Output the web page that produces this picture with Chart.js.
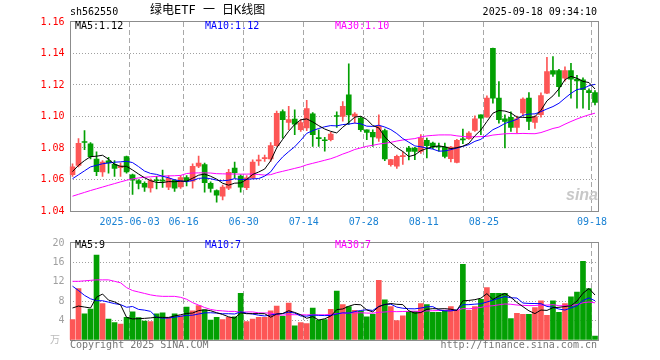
<!DOCTYPE html>
<html>
<head>
<meta charset="utf-8">
<script src="https://cdn.jsdelivr.net/npm/chart.js@4.4.1/dist/chart.umd.min.js"></script>
<style>
  body { margin: 0; background: #fff; }
  #wrap { position: relative; width: 660px; height: 360px; overflow: hidden; font-family: "DejaVu Sans Mono", monospace; font-size: 10px; }
  #wrap canvas { position: absolute; left: 0; }
  .t { position: absolute; white-space: pre; line-height: 12px; }
</style>
</head>
<body>
<div id="wrap">
  <canvas id="k_chart" width="660" height="232" style="top:0"></canvas>
  <canvas id="vol_chart" width="660" height="128" style="top:232px"></canvas>

  <div class="t" style="left:70px;top:6px">sh562550</div>
  <div class="t" id="title" style="left:150px;top:4px;font-size:12px;font-family:'DejaVu Sans Mono','Noto Sans CJK SC',monospace">绿电ETF 一 日K线图</div>
  <div class="t" style="right:63px;top:6px">2025-09-18 09:34:10</div>

  <div class="t" id="k_ma5" style="left:75px;top:20px;color:#000"></div>
  <div class="t" id="k_ma10" style="left:205px;top:20px;color:#0000ff"></div>
  <div class="t" id="k_ma30" style="left:335px;top:20px;color:#ff00ff"></div>

  <div class="t" id="v_ma5" style="left:75px;top:239px;color:#000"></div>
  <div class="t" id="v_ma10" style="left:205px;top:239px;color:#0000ff"></div>
  <div class="t" id="v_ma30" style="left:335px;top:239px;color:#ff00ff"></div>

  <div class="t" style="left:566px;top:186px;color:#c8c8c8;font:italic bold 16px 'Liberation Sans',sans-serif">sina</div>
  <div class="t" style="left:50px;top:333px;color:#bbb;font-size:10px;font-family:'Noto Sans CJK SC',sans-serif">万</div>
  <div class="t" style="left:70px;top:339px;color:#777">Copyright 2025 SINA.COM</div>
  <div class="t" style="right:63px;top:339px;color:#777">http://finance.sina.com.cn</div>
</div>

<script>
// trading days shown (2025)
const dates = [
  '05-19','05-20','05-21','05-22','05-23','05-26','05-27','05-28','05-29','05-30',
  '06-03','06-04','06-05','06-06','06-09','06-10','06-11','06-12','06-13','06-16',
  '06-17','06-18','06-19','06-20','06-23','06-24','06-25','06-26','06-27','06-30',
  '07-01','07-02','07-03','07-04','07-07','07-08','07-09','07-10','07-11','07-14',
  '07-15','07-16','07-17','07-18','07-21','07-22','07-23','07-24','07-25','07-28',
  '07-29','07-30','07-31','08-01','08-04','08-05','08-06','08-07','08-08','08-11',
  '08-12','08-13','08-14','08-15','08-18','08-19','08-20','08-21','08-22','08-25',
  '08-26','08-27','08-28','08-29','09-01','09-02','09-03','09-04','09-05','09-08',
  '09-09','09-10','09-11','09-12','09-15','09-16','09-17','09-18'
];
const tick_dates = ['2025-06-03', '06-16', '06-30', '07-14', '07-28', '08-11', '08-25', '09-18'];

const open_prices = [
  1.063, 1.069, 1.084, 1.0826, 1.073, 1.0648, 1.0718, 1.0697, 1.0675, 1.0745,
  1.063, 1.0593, 1.0575, 1.0547, 1.0597, 1.0595, 1.0552, 1.0595, 1.0553, 1.0612,
  1.059, 1.0685, 1.0694, 1.0575, 1.053, 1.0494, 1.0545, 1.0673, 1.0622, 1.0548,
  1.061, 1.0718, 1.0733, 1.073, 1.0815, 1.1032, 1.0962, 1.0984, 1.0916, 1.0927,
  1.1017, 1.0865, 1.085, 1.0853, 1.1005, 1.100, 1.1138, 1.100, 1.099, 1.0916,
  1.0899, 1.0863, 1.091, 1.0694, 1.0684, 1.0745, 1.080, 1.080, 1.0779, 1.0848,
  1.0832, 1.0808, 1.0806, 1.0732, 1.0709, 1.0855, 1.0859, 1.0912, 1.1011, 1.0996,
  1.1433, 1.1117, 1.0986, 1.0995, 1.093, 1.1022, 1.1117, 1.0962, 1.1011, 1.1148,
  1.1292, 1.1292, 1.1243, 1.1292, 1.1237, 1.1233, 1.1165, 1.1152
];
const close_prices = [
  1.068, 1.083, 1.0835, 1.0745, 1.065, 1.071, 1.0705, 1.067, 1.0685, 1.0648,
  1.0595, 1.0575, 1.0552, 1.0593, 1.0592, 1.059, 1.0608, 1.0545, 1.0612, 1.0592,
  1.0683, 1.0705, 1.058, 1.0543, 1.050, 1.0552, 1.0645, 1.0643, 1.0552, 1.061,
  1.071, 1.0723, 1.0737, 1.0815, 1.102, 1.098, 1.098, 1.0952, 1.0962, 1.105,
  1.0884, 1.086, 1.0846, 1.0889, 1.100, 1.1065, 1.101, 1.1016, 1.0916, 1.0899,
  1.087, 1.0937, 1.073, 1.0726, 1.0747, 1.0748, 1.0779, 1.0779, 1.0863, 1.0815,
  1.0806, 1.0805, 1.0747, 1.0806, 1.0848, 1.0852, 1.0895, 1.0986, 1.099, 1.1117,
  1.1117, 1.098, 1.0969, 1.093, 1.0985, 1.111, 1.0969, 1.100, 1.1133, 1.1285,
  1.1269, 1.119, 1.1292, 1.1237, 1.1226, 1.117, 1.1152, 1.1089
];
const high_prices = [
  1.070, 1.086, 1.091, 1.0835, 1.0775, 1.072, 1.074, 1.072, 1.0705, 1.0748,
  1.0635, 1.060, 1.0585, 1.0605, 1.062, 1.066, 1.0625, 1.060, 1.0625, 1.0625,
  1.070, 1.0748, 1.0705, 1.0585, 1.0535, 1.0565, 1.0665, 1.071, 1.063, 1.0625,
  1.0725, 1.0755, 1.0755, 1.0835, 1.1035, 1.1043, 1.1064, 1.1043, 1.098, 1.1102,
  1.1025, 1.0916, 1.0867, 1.090, 1.103, 1.1095, 1.1335, 1.1025, 1.100, 1.0916,
  1.0916, 1.1011, 1.092, 1.0728, 1.0755, 1.0775, 1.081, 1.0805, 1.0885, 1.0863,
  1.0838, 1.0832, 1.0832, 1.081, 1.0855, 1.092, 1.0905, 1.1005, 1.1011, 1.1131,
  1.1435, 1.1222, 1.1011, 1.103, 1.1003, 1.1118, 1.1152, 1.1005, 1.115, 1.1376,
  1.138, 1.130, 1.1315, 1.1338, 1.1262, 1.1245, 1.1175, 1.1165
];
const low_prices = [
  1.062, 1.068, 1.079, 1.073, 1.0625, 1.062, 1.064, 1.062, 1.062, 1.064,
  1.0505, 1.054, 1.0525, 1.052, 1.054, 1.055, 1.0535, 1.0525, 1.0543, 1.056,
  1.0545, 1.0675, 1.052, 1.052, 1.0456, 1.047, 1.0535, 1.061, 1.052, 1.0535,
  1.0605, 1.069, 1.0715, 1.0715, 1.081, 1.0863, 1.0916, 1.0884, 1.0905, 1.091,
  1.081, 1.081, 1.078, 1.0845, 1.093, 1.097, 1.095, 1.096, 1.0905, 1.0853,
  1.081, 1.0842, 1.072, 1.0685, 1.067, 1.0695, 1.0725, 1.0726, 1.0765, 1.0737,
  1.0795, 1.078, 1.0737, 1.0712, 1.0705, 1.0827, 1.0855, 1.0905, 1.0884, 1.0995,
  1.1085, 1.0958, 1.080, 1.0905, 1.0895, 1.1005, 1.0916, 1.0925, 1.0995, 1.1145,
  1.1255, 1.1127, 1.1225, 1.1117, 1.1053, 1.1053, 1.1043, 1.1074
];
// volume, 万
const volumes = [
  4.2, 10.6, 5.4, 6.4, 17.5, 7.5, 4.3, 3.6, 3.3, 4.7,
  5.8, 4.6, 3.9, 3.8, 5.4, 5.6, 4.6, 5.4, 5.0, 6.8,
  6.0, 7.1, 6.2, 4.1, 4.7, 4.2, 4.7, 4.8, 9.6, 3.8,
  4.3, 4.7, 4.7, 6.0, 7.0, 4.9, 7.6, 2.9, 3.6, 3.4,
  6.6, 4.1, 4.2, 6.3, 10.1, 7.3, 6.9, 6.1, 5.9, 4.8,
  5.3, 12.3, 8.3, 6.9, 4.0, 5.0, 5.9, 5.9, 7.5, 7.3,
  5.7, 5.7, 6.1, 6.9, 6.1, 15.6, 6.1, 6.9, 8.4, 10.8,
  9.6, 9.6, 9.6, 4.4, 5.5, 5.3, 5.3, 6.7, 8.1, 5.1,
  8.1, 5.7, 7.5, 8.9, 9.9, 16.2, 10.6, 0.8
];

const price_ma5_head = [1.065, 1.069, 1.072, 1.0745];
const price_ma10_head = [1.0605, 1.063, 1.0655, 1.068, 1.069, 1.070, 1.0705, 1.071, 1.0712];
const price_ma30_head = [
  1.0494, 1.0506, 1.0518, 1.053, 1.0541, 1.0552, 1.0563, 1.0574, 1.0585, 1.0595,
  1.0604, 1.061, 1.0614, 1.0617, 1.062, 1.0622, 1.0623, 1.0624, 1.0626, 1.0638,
  1.0641, 1.0642, 1.0642, 1.0641, 1.0637, 1.0636, 1.0635, 1.0635, 1.0634
];
const vol_ma5_head = [6.6, 7.0, 6.8, 6.6];
const vol_ma10_head = [11.1, 10.2, 9.2, 8.5, 8.1, 8.1, 7.8, 7.5, 7.3];
const vol_ma30_head = [
  12.1, 12.1, 12.2, 12.3, 12.4, 12.4, 12.4, 12.1, 11.8, 10.8,
  10.2, 9.9, 9.6, 9.3, 9.1, 9.0, 9.0, 9.0, 8.8, 8.4,
  7.7, 7.2, 6.7, 6.3, 6.1, 6.0, 5.9, 5.9, 5.7
];

const price_ticks = [1.04, 1.06, 1.08, 1.10, 1.12, 1.14, 1.16];
const vol_ticks = [0, 4, 8, 12, 16, 20];
const vol_ma_labels = ['MA5:9', 'MA10:7', 'MA30:7'];

const RED = '#fd5656';
const GREEN = '#03a003';
const MONO = { family: 'DejaVu Sans Mono', size: 10 };

function moving_average(values, n, head) {
  return values.map((v, i) => {
    if (i < n - 1) return head[i];
    let sum = 0;
    for (let j = i - n + 1; j <= i; j++) sum += values[j];
    return sum / n;
  });
}

const candle_colors = close_prices.map((c, i) => c >= open_prices[i] ? RED : GREEN);
const price_ma5 = moving_average(close_prices, 5, price_ma5_head);
const price_ma10 = moving_average(close_prices, 10, price_ma10_head);
const price_ma30 = moving_average(close_prices, 30, price_ma30_head);
const vol_ma5 = moving_average(volumes, 5, vol_ma5_head);
const vol_ma10 = moving_average(volumes, 10, vol_ma10_head);
const vol_ma30 = moving_average(volumes, 30, vol_ma30_head);

document.getElementById('k_ma5').textContent = 'MA5:' + price_ma5[price_ma5.length - 1].toFixed(2);
document.getElementById('k_ma10').textContent = 'MA10:' + price_ma10[price_ma10.length - 1].toFixed(2);
document.getElementById('k_ma30').textContent = 'MA30:' + price_ma30[price_ma30.length - 1].toFixed(2);
document.getElementById('v_ma5').textContent = vol_ma_labels[0];
document.getElementById('v_ma10').textContent = vol_ma_labels[1];
document.getElementById('v_ma30').textContent = vol_ma_labels[2];

const tick_index = new Set();
dates.forEach((d, i) => { if (tick_dates.some(t => t.endsWith(d))) tick_index.add(i); });

// gray box round the plot area
const frame_plugin = {
  id: 'frame',
  beforeDatasetsDraw(chart) {
    const { ctx, chartArea: a } = chart;
    const x1 = Math.round(a.left) + 0.5, x2 = Math.round(a.right) + 0.5;
    const y1 = Math.round(a.top) - 0.5, y2 = Math.round(a.bottom) + 0.5;
    ctx.save();
    ctx.strokeStyle = '#8c8c8c';
    ctx.lineWidth = 1;
    ctx.strokeRect(x1, y1, x2 - x1, y2 - y1);
    ctx.restore();
  }
};

function ma_line(data, color) {
  return { type: 'line', data: data, borderColor: color, borderWidth: 1, pointRadius: 0, tension: 0, order: 0 };
}

function x_scale(show_labels) {
  return {
    type: 'category',
    offset: true,
    grid: {
      offset: true,
      drawTicks: false,
      color: ctx => tick_index.has(ctx.index) ? '#a8a8a8' : 'rgba(0,0,0,0)'
    },
    border: { display: false, dash: [5, 3] },
    ticks: {
      display: show_labels,
      autoSkip: false,
      maxRotation: 0,
      padding: 5,
      labelOffset: -3,
      color: '#1a82d4',
      font: MONO,
      callback: function (value, index) {
        if (!tick_index.has(index)) return '';
        const d = dates[index];
        return tick_dates.find(t => t.endsWith(d));
      }
    },
    afterFit: scale => { scale.height = show_labels ? 21 : 0; }
  };
}

function y_scale(ticks, color, hide_zero) {
  const lo = ticks[0], hi = ticks[ticks.length - 1];
  return {
    min: lo,
    max: hi,
    afterBuildTicks: scale => { scale.ticks = ticks.map(v => ({ value: v })); },
    grid: {
      drawTicks: false,
      color: ctx => (ctx.tick && ctx.tick.value > lo && ctx.tick.value < hi) ? '#a0a0a0' : 'rgba(0,0,0,0)'
    },
    border: { display: false, dash: [1, 2] },
    ticks: {
      padding: 5,
      color: color,
      font: MONO,
      callback: v => (hide_zero && v === 0) ? '' : (hide_zero ? String(v) : v.toFixed(2))
    },
    afterFit: scale => { scale.width = 69.5; }
  };
}

const common_options = {
  responsive: false,
  devicePixelRatio: 1,
  animation: false,
  events: [],
  plugins: { legend: { display: false }, tooltip: { enabled: false } }
};

new Chart(document.getElementById('k_chart').getContext('2d'), {
  type: 'bar',
  data: {
    labels: dates,
    datasets: [
      ma_line(price_ma5, '#000000'),
      ma_line(price_ma10, '#0000ff'),
      ma_line(price_ma30, '#ff00ff'),
      {
        // candle body
        data: open_prices.map((o, i) => [o, close_prices[i]]),
        backgroundColor: candle_colors,
        barThickness: 5,
        minBarLength: 1,
        grouped: false,
        order: 1
      },
      {
        // high-low wick
        data: low_prices.map((l, i) => [l, high_prices[i]]),
        backgroundColor: candle_colors,
        barThickness: 1,
        grouped: false,
        order: 2
      }
    ]
  },
  options: {
    ...common_options,
    layout: { padding: { left: 0, right: 62, top: 22, bottom: 0 } },
    scales: {
      x: x_scale(true),
      y: y_scale(price_ticks, '#ff0000', false)
    }
  },
  plugins: [frame_plugin]
});

new Chart(document.getElementById('vol_chart').getContext('2d'), {
  type: 'bar',
  data: {
    labels: dates,
    datasets: [
      ma_line(vol_ma5, '#000000'),
      ma_line(vol_ma10, '#0000ff'),
      ma_line(vol_ma30, '#ff00ff'),
      {
        data: volumes,
        backgroundColor: candle_colors,
        barThickness: 5,
        grouped: false,
        order: 1
      }
    ]
  },
  options: {
    ...common_options,
    layout: { padding: { left: 0, right: 62, top: 8, bottom: 20 } },
    scales: {
      x: x_scale(false),
      y: y_scale(vol_ticks, '#a0a0a0', true)
    }
  },
  plugins: [frame_plugin]
});
</script>
</body>
</html>
